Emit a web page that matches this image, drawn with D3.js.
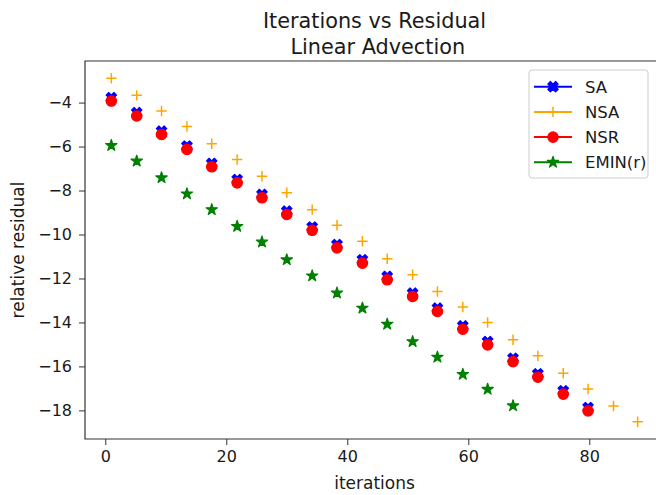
<!DOCTYPE html>
<html>
<head>
<meta charset="utf-8">
<script src="https://cdn.jsdelivr.net/npm/d3@7"></script>
<style>
  body { margin: 0; background: #fff; }
  svg { display: block; font-family: "DejaVu Sans", sans-serif; }
</style>
</head>
<body>
<div id="container"></div>
<script>
// iteration counts (shared x positions)
const iters = [1, 5.2, 9.3, 13.5, 17.6, 21.8, 25.9, 30, 34.2, 38.3, 42.5, 46.6, 50.8, 54.9, 59.1, 63.2, 67.4, 71.5, 75.7, 79.8, 84, 88];

const saVals = [-3.78, -4.46, -5.30, -5.98, -6.77, -7.50, -8.18, -8.94, -9.66, -10.46, -11.15, -11.91, -12.67, -13.35, -14.16, -14.87, -15.63, -16.34, -17.11, -17.87];
const nsaVals = [-2.89, -3.67, -4.38, -5.09, -5.87, -6.59, -7.35, -8.10, -8.87, -9.58, -10.31, -11.10, -11.83, -12.59, -13.30, -14.00, -14.79, -15.52, -16.31, -17.03, -17.80, -18.52];
const nsrVals = [-3.93, -4.61, -5.45, -6.13, -6.92, -7.65, -8.33, -9.09, -9.81, -10.61, -11.30, -12.06, -12.82, -13.50, -14.31, -15.02, -15.78, -16.49, -17.26, -18.02];
const eminVals = [-5.95, -6.66, -7.42, -8.15, -8.87, -9.63, -10.34, -11.15, -11.88, -12.66, -13.35, -14.08, -14.87, -15.58, -16.36, -17.04, -17.79];

const seriesNames = ["SA", "NSA", "NSR", "EMIN(r)"];
const seriesColors = ["#0000ff", "#ffa500", "#ff0000", "#008000"];
const seriesMarkers = ["xfilled", "plus", "circle", "star"];

const xTicks = [0, 20, 40, 60, 80];
const yTicks = [-4, -6, -8, -10, -12, -14, -16, -18];

const w = 656;
const h = 495;
const margin = {top: 61, left: 85, bottom: 56, right: -8};
const graphWidth = w - margin.left - margin.right;
const graphHeight = h - margin.top - margin.bottom;

const series = [saVals, nsaVals, nsrVals, eminVals].map((vals, i) => ({
	name: seriesNames[i],
	color: seriesColors[i],
	marker: seriesMarkers[i],
	points: vals.map((v, j) => ({x: iters[j], y: v}))
}));

const allPts = series.flatMap(s => s.points);
const xExt = d3.extent(allPts, d => d.x);
const yExt = d3.extent(allPts, d => d.y);
const xPad = (xExt[1] - xExt[0]) * 0.05;
const yPad = (yExt[1] - yExt[0]) * 0.05;

const svg = d3.select("#container").append("svg").attr("width", w).attr("height", h);
const graph = svg.append("g").attr("transform", `translate(${margin.left}, ${margin.top})`);

const xScale = d3.scaleLinear()
	.domain([xExt[0] - xPad, xExt[1] + xPad])
	.range([0, graphWidth]);
const yScale = d3.scaleLinear()
	.domain([yExt[0] - yPad, yExt[1] + yPad])
	.range([graphHeight, 0]);

// marker drawing
const ms = 5.2; // half size in px
function markerPath(type) {
	if (type === "xfilled") {
		const pts = [[-1, -2], [0, -1], [1, -2], [2, -1], [1, 0], [2, 1], [1, 2], [0, 1], [-1, 2], [-2, 1], [-1, 0], [-2, -1]];
		return "M" + pts.map(p => [p[0] * ms / 2, p[1] * ms / 2].join(",")).join("L") + "Z";
	}
	if (type === "plus") return `M${-ms},0L${ms},0M0,${-ms}L0,${ms}`;
	if (type === "star") return d3.symbol(d3.symbolStar, 40)();
	return d3.symbol(d3.symbolCircle, Math.PI * ms * ms)();
}
function drawMarker(sel, s) {
	sel.append("path")
		.attr("d", markerPath(s.marker))
		.attr("fill", s.marker === "plus" ? "none" : s.color)
		.attr("stroke", s.color)
		.attr("stroke-width", s.marker === "plus" ? 1.5 : 1.2)
		.attr("stroke-linejoin", "round");
}

series.forEach(s => {
	graph.append("g").selectAll("g")
		.data(s.points)
		.enter()
		.append("g")
			.attr("transform", d => `translate(${xScale(d.x)}, ${yScale(d.y)})`)
			.each(function() { drawMarker(d3.select(this), s); });
});

// axes
const xAxis = d3.axisBottom(xScale).tickValues(xTicks).tickSize(6).tickPadding(6);
const yAxis = d3.axisLeft(yScale).tickValues(yTicks).tickSize(6).tickPadding(7)
	.tickFormat(d => d < 0 ? "\u2212" + Math.abs(d) : d);

const xAxisGroup = graph.append("g").attr("transform", `translate(0, ${graphHeight})`).call(xAxis);
const yAxisGroup = graph.append("g").call(yAxis);
[xAxisGroup, yAxisGroup].forEach(g => {
	g.select(".domain").remove();
	g.selectAll("text").attr("font-size", 16).attr("font-family", "DejaVu Sans").attr("fill", "#1a1a1a");
	g.selectAll("line").attr("stroke", "#333");
});

// spines (left, top, bottom)
graph.append("path")
	.attr("d", `M${graphWidth},0H0V${graphHeight}H${graphWidth}`)
	.attr("fill", "none").attr("stroke", "#333").attr("stroke-width", 1.2);

// labels
svg.append("text")
	.attr("x", margin.left + graphWidth / 2).attr("y", 27.5)
	.attr("text-anchor", "middle").attr("font-size", 20.8).attr("fill", "#1a1a1a")
	.text("Iterations vs Residual");
svg.append("text")
	.attr("x", margin.left + graphWidth / 2).attr("y", 53.5)
	.attr("text-anchor", "middle").attr("font-size", 20.8).attr("fill", "#1a1a1a")
	.style("white-space", "pre")
	.text(" Linear Advection");
svg.append("text")
	.attr("x", margin.left + graphWidth / 2).attr("y", 489)
	.attr("text-anchor", "middle").attr("font-size", 17).attr("fill", "#1a1a1a")
	.text("iterations");
svg.append("text")
	.attr("transform", `translate(24, ${margin.top + graphHeight / 2}) rotate(-90)`)
	.attr("text-anchor", "middle").attr("font-size", 17).attr("fill", "#1a1a1a")
	.text("relative residual");

// legend
const legend = svg.append("g").attr("transform", "translate(529, 70)");
legend.append("rect")
	.attr("width", 119).attr("height", 108).attr("rx", 3)
	.attr("fill", "#fff").attr("fill-opacity", 0.8)
	.attr("stroke", "#cccccc").attr("stroke-width", 1);
const items = legend.selectAll("g.item")
	.data(series)
	.enter()
	.append("g")
		.attr("class", "item")
		.attr("transform", (d, i) => `translate(0, ${16.7 + i * 25.2})`);
items.append("line")
	.attr("x1", 5).attr("x2", 43)
	.attr("stroke", d => d.color).attr("stroke-width", 2);
items.append("g")
	.attr("transform", "translate(24, 0)")
	.each(function(d) { drawMarker(d3.select(this), d); });
items.append("text")
	.attr("x", 56).attr("y", 0).attr("dy", "0.36em")
	.attr("font-size", 16.5).attr("fill", "#1a1a1a")
	.text(d => d.name);
</script>
</body>
</html>
